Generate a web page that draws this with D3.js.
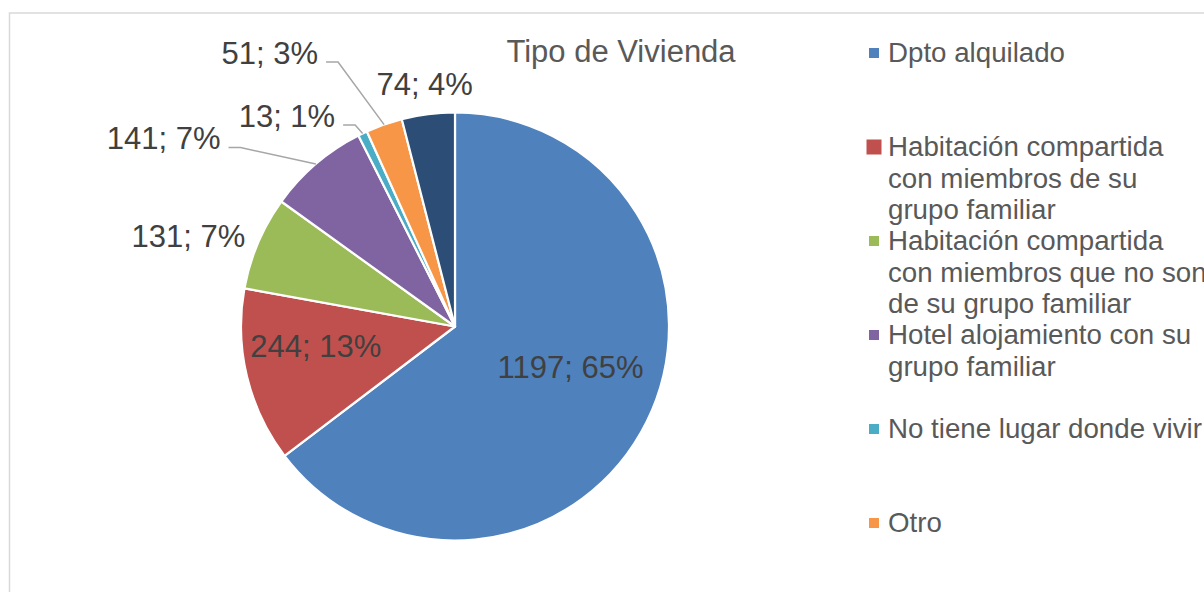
<!DOCTYPE html>
<html>
<head>
<meta charset="utf-8">
<script src="https://cdn.jsdelivr.net/npm/d3@7"></script>
<style>
  body { margin: 0; background: #fff; }
  svg { display: block; font-family: "Liberation Sans", Arial, sans-serif; }
</style>
</head>
<body>
<svg id="chart" width="1204" height="592"></svg>
<script>
// Categories (legend order = slice order, clockwise from 12 o'clock).
const categories = [
  "Dpto alquilado",
  "Habitación compartida con miembros de su grupo familiar",
  "Habitación compartida con miembros que no son de su grupo familiar",
  "Hotel alojamiento con su grupo familiar",
  "No tiene lugar donde vivir",
  "Otro",
  "No responde"
];
const values = [1197, 244, 131, 141, 13, 51, 74];
const percents = ["65%", "13%", "7%", "7%", "1%", "3%", "4%"];

// How the legend wraps each name.
const legendLines = [
  ["Dpto alquilado"],
  ["Habitación compartida", "con miembros de su", "grupo familiar"],
  ["Habitación compartida", "con miembros que no son", "de su grupo familiar"],
  ["Hotel alojamiento con su", "grupo familiar"],
  ["No tiene lugar donde vivir"],
  ["Otro"],
  ["No responde"]
];

const colors = ["#4F81BD", "#C0504D", "#9BBB59", "#8064A2", "#4BACC6", "#F79646", "#2C4D75"];

// Label placement: radius factor along the slice mid-angle, then a nudge.
const labelRadius = [0.65, 0.65, 1.3, 1.3, 1.3, 1.3, 1.3];
const labelNudge = [[-9, -10], [-4, -2], [-10.5, 29], [-110.5, 34], [-48, 51], [-93, -0.5], [4.5, 44.5]];
const hasLeader = [false, false, false, true, true, true, false];

const W = 1204, H = 592;
const svg = d3.select("#chart");
const cx = 455, cy = 326.5, r = 214;

// Chart area border (runs off the right and bottom edges).
svg.append("rect")
  .attr("x", 9.5).attr("y", 13)
  .attr("width", 1400).attr("height", 800)
  .attr("fill", "none")
  .attr("stroke", "#D9D9D9")
  .attr("stroke-width", 1.5);

// Title.
svg.append("text")
  .attr("x", 621).attr("y", 61.7)
  .attr("text-anchor", "middle")
  .attr("font-size", 31)
  .attr("fill", "#595959")
  .text("Tipo de Vivienda");

const pie = d3.pie().sort(null).value(d => d)(values);
const arc = d3.arc().innerRadius(0).outerRadius(r);
const g = svg.append("g").attr("transform", "translate(" + cx + "," + cy + ")");

g.selectAll("path.slice")
  .data(pie)
  .enter().append("path")
  .attr("class", "slice")
  .attr("d", arc)
  .attr("fill", (d, i) => colors[i])
  .attr("stroke", "#fff")
  .attr("stroke-width", 2.2)
  .attr("stroke-linejoin", "round");

// Data labels and leader lines.
pie.forEach(function (d, i) {
  let la = d3.arc().innerRadius(labelRadius[i] * r).outerRadius(labelRadius[i] * r);
  let p = la.centroid(d);
  let lx = p[0] + labelNudge[i][0];
  let ly = p[1] + labelNudge[i][1];
  let t = g.append("text")
    .attr("x", lx).attr("y", ly)
    .attr("text-anchor", "middle")
    .attr("font-size", 31)
    .attr("fill", "#404040")
    .text(values[i] + "; " + percents[i]);

  if (hasLeader[i]) {
    let bb = t.node().getBBox();
    let right = bb.x + bb.width;
    let edge = d3.arc().innerRadius(r).outerRadius(r).centroid(d);
    let yLine = ly - 1.5;
    g.append("polyline")
      .attr("points", [[right + 8, yLine], [right + 20, yLine], edge].map(q => q.join(",")).join(" "))
      .attr("fill", "none")
      .attr("stroke", "#A6A6A6")
      .attr("stroke-width", 1.5);
  }
});

// Legend (entries that fall below the visible area are not drawn).
const legend = svg.append("g");
const slot = 94, firstBase = 62, lineH = 31.5;
categories.forEach(function (c, i) {
  let base = firstBase + i * slot;
  if (base - 22 > H) return;
  let size = (i === 1) ? 15 : 10;
  legend.append("rect")
    .attr("x", 874 - size / 2)
    .attr("y", base - 9 - size / 2)
    .attr("width", size).attr("height", size)
    .attr("fill", colors[i]);
  let t = legend.append("text")
    .attr("x", 888).attr("y", base)
    .attr("font-size", 27.7)
    .attr("fill", "#595959");
  legendLines[i].forEach(function (line, j) {
    t.append("tspan")
      .attr("x", 888)
      .attr("y", base + j * lineH)
      .text(line);
  });
});
</script>
</body>
</html>
